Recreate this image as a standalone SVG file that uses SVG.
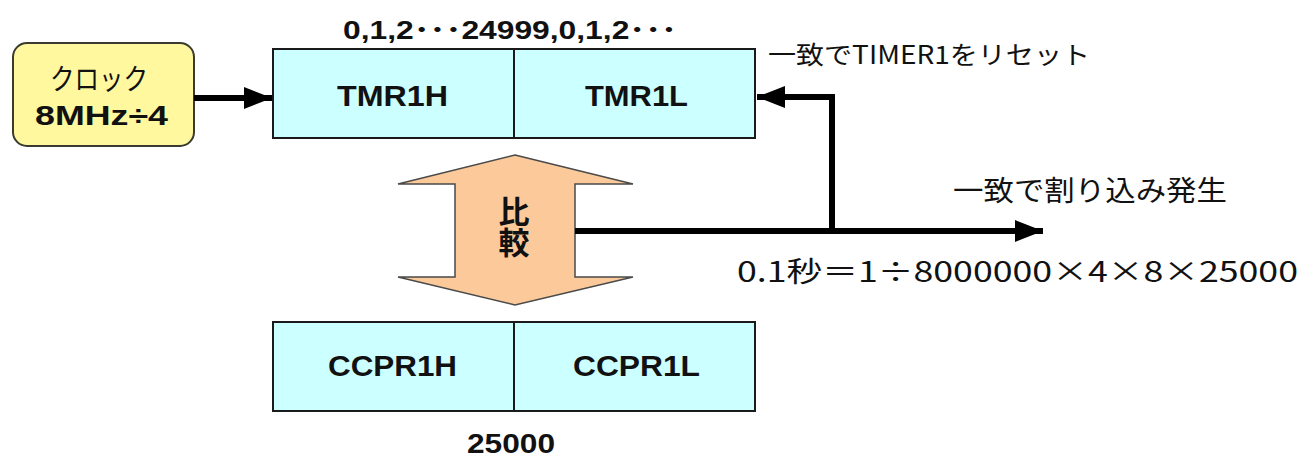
<svg xmlns="http://www.w3.org/2000/svg" width="1306" height="459" viewBox="0 0 1306 459">
<style>
.reg{fill:#CCFFFF;stroke:#1a1a1a;stroke-width:2}
.lat{font-family:"Liberation Sans","Noto Sans CJK JP",sans-serif;font-weight:bold;fill:#111}
.jp{font-family:"Noto Sans CJK JP","Liberation Sans",sans-serif;fill:#111}
.wire{fill:none;stroke:#000;stroke-width:6}
</style>
<defs>
<marker id="ah" markerUnits="userSpaceOnUse" markerWidth="30" markerHeight="24" refX="28" refY="12" orient="auto">
<path d="M0,1 L28,12 L0,23 Z" fill="#000"/>
</marker>
</defs>
<rect width="1306" height="459" fill="#fff"/>
<g id="clock">
<rect x="13" y="43" width="181" height="103" rx="14" ry="14" fill="#FFF89E" stroke="#3a3a30" stroke-width="2"/>
<text class="jp" x="50" y="90" font-size="29" textLength="98" lengthAdjust="spacingAndGlyphs">クロック</text>
<text class="lat" x="35" y="125" font-size="28" textLength="133" lengthAdjust="spacingAndGlyphs">8MHz÷4</text>
</g>
<g id="tmr1">
<rect class="reg" x="273" y="49" width="482" height="89"/>
<line x1="514" y1="49" x2="514" y2="138" stroke="#1a1a1a" stroke-width="2"/>
<text class="lat" x="337" y="106" font-size="29" textLength="111" lengthAdjust="spacingAndGlyphs">TMR1H</text>
<text class="lat" x="585" y="106" font-size="29" textLength="103" lengthAdjust="spacingAndGlyphs">TMR1L</text>
<text class="lat" x="343" y="39" font-size="26" textLength="334" lengthAdjust="spacingAndGlyphs">0,1,2･･･24999,0,1,2･･･</text>
</g>
<g id="ccpr1">
<rect class="reg" x="273" y="322" width="482" height="89"/>
<line x1="514" y1="322" x2="514" y2="411" stroke="#1a1a1a" stroke-width="2"/>
<text class="lat" x="328" y="376" font-size="29" textLength="129" lengthAdjust="spacingAndGlyphs">CCPR1H</text>
<text class="lat" x="573" y="376" font-size="29" textLength="127" lengthAdjust="spacingAndGlyphs">CCPR1L</text>
<text class="lat" x="467" y="453" font-size="28" textLength="88" lengthAdjust="spacingAndGlyphs">25000</text>
</g>
<g id="compare">
<path d="M515,155 L633,184 L575,184 L575,277 L633,277 L515,305 L398,277 L455,277 L455,184 L398,184 Z" fill="#FBC99A" stroke="#4a4a4a" stroke-width="1.5"/>
<text class="jp" x="514" y="196" font-size="31" font-weight="bold" writing-mode="vertical-rl" style="writing-mode:vertical-rl">比較</text>
</g>
<g id="labels">
<text class="jp" x="768" y="64" font-size="25" textLength="322" lengthAdjust="spacingAndGlyphs">一致でTIMER1をリセット</text>
<text class="jp" x="953" y="201" font-size="28" textLength="274" lengthAdjust="spacingAndGlyphs">一致で割り込み発生</text>
<text class="jp" x="737" y="282" font-size="28" textLength="561" lengthAdjust="spacingAndGlyphs">0.1秒＝1÷8000000×4×8×25000</text>
</g>
<g id="connectors">
<line class="wire" x1="194" y1="98" x2="272" y2="98" marker-end="url(#ah)"/>
<polyline class="wire" points="832,231 832,97 757,97" marker-end="url(#ah)"/>
<line class="wire" x1="575" y1="231" x2="1043" y2="231" marker-end="url(#ah)"/>
</g>
</svg>
